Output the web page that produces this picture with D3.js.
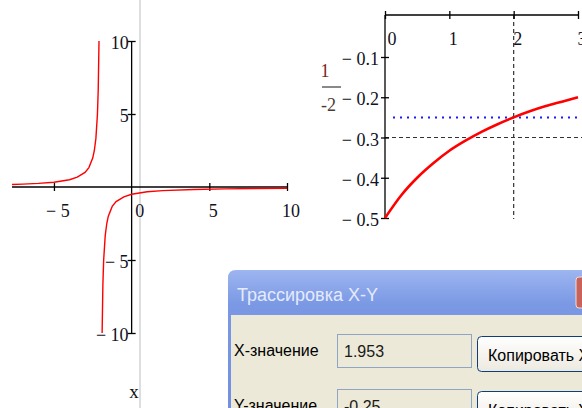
<!DOCTYPE html>
<html>
<head>
<meta charset="utf-8">
<script src="https://cdn.jsdelivr.net/npm/d3@7"></script>
<style>
  body { margin: 0; background: #fff; }
  svg { display: block; }
</style>
</head>
<body>
<div id="root"></div>
<script>
// values: y = 1/(-2-x)
const leftBranchX = [-7.7, -7, -6, -5, -4, -3.5, -3, -2.75, -2.5, -2.4, -2.3, -2.2, -2.15, -2.1];
const leftBranchY = [0.17, 0.2, 0.25, 0.33, 0.5, 0.67, 1, 1.33, 2, 2.5, 3.33, 5, 6.67, 10];
const rightBranchX = [-1.9, -1.85, -1.8, -1.7, -1.6, -1.5, -1.25, -1, -0.5, 0, 1, 2, 4, 6, 8, 10];
const rightBranchY = [-10, -6.67, -5, -3.33, -2.5, -2, -1.33, -1, -0.67, -0.5, -0.33, -0.25, -0.17, -0.125, -0.1, -0.083];
const leftXTicks = [-5, 0, 5, 10];
const leftYTicks = [-10, -5, 5, 10];

// zoomed plot, 0..3
const zoomX = [0, 0.25, 0.5, 0.75, 1, 1.25, 1.5, 1.75, 2, 2.25, 2.5, 2.75, 3];
const zoomY = [-0.5, -0.444, -0.4, -0.364, -0.333, -0.308, -0.286, -0.267, -0.25, -0.235, -0.222, -0.211, -0.2];
const zoomXTicks = [0, 1, 2, 3];
const zoomYTicks = [-0.1, -0.2, -0.3, -0.4, -0.5];
const markerX = 2;
const markerY = -0.3;
const traceLevel = -0.25;

// trace dialog
const dialogTitle = 'Трассировка X-Y';
const rowLabels = ['X-значение', 'Y-значение'];
const rowValues = ['1.953', '-0.25'];
const buttonLabels = ['Копировать X', 'Копировать Y'];

const w = 582, h = 408;
const svg = d3.select('#root').append('svg').attr('width', w).attr('height', h);

const fmt = d => (d < 0 ? '\u2212 ' + Math.abs(d) : String(d));
const serif = '"Liberation Serif", "DejaVu Serif", serif';
const sans = '"Liberation Sans", Arial, sans-serif';
const labelColor = '#111122';

// ---------- left plot ----------
const x1 = d3.scaleLinear().domain([-7.7, 10]).range([12, 287]);
const y1 = d3.scaleLinear().domain([-10, 10]).range([333, 41]);

// mathcad region border
svg.append('line').attr('x1', 140).attr('x2', 140).attr('y1', 0).attr('y2', h)
  .attr('stroke', '#c8c8c8').attr('stroke-width', 1.2);

const xAxis1 = svg.append('g')
  .attr('transform', `translate(0,${y1(0)})`)
  .call(d3.axisBottom(x1).tickValues([-5, 5, 10]).tickSize(4).tickFormat(''));
xAxis1.select('.domain').attr('d', `M${x1.range()[0]},0H${x1.range()[1]}`).attr('stroke', '#000').attr('stroke-width', 1.3);
xAxis1.selectAll('.tick line').attr('y1', -4).attr('y2', 4).attr('stroke', '#000').attr('stroke-width', 1.3);

const yAxis1 = svg.append('g')
  .attr('transform', `translate(${x1(0)},0)`)
  .call(d3.axisLeft(y1).tickValues(leftYTicks).tickSize(4).tickFormat(''));
yAxis1.select('.domain').attr('d', `M0,${y1(10)}V${y1(-10)}`).attr('stroke', '#000').attr('stroke-width', 1.3);
yAxis1.selectAll('.tick line').attr('x1', -4).attr('x2', 4).attr('stroke', '#000').attr('stroke-width', 1.3);

svg.append('g').selectAll('text').data(leftXTicks).enter().append('text')
  .attr('x', d => x1(d) + (d === 0 ? 8 : 4))
  .attr('y', 217)
  .attr('text-anchor', 'middle')
  .attr('font-family', serif).attr('font-size', 18).attr('fill', labelColor)
  .text(fmt);

svg.append('g').selectAll('text').data(leftYTicks).enter().append('text')
  .attr('x', x1(0) - 3)
  .attr('y', d => y1(d) + 8)
  .attr('text-anchor', 'end')
  .attr('font-family', serif).attr('font-size', 18).attr('fill', labelColor)
  .text(fmt);

svg.append('text').attr('x', 134).attr('y', 398).attr('text-anchor', 'middle')
  .attr('font-family', serif).attr('font-size', 19).attr('fill', '#111').text('x');

const line1 = d3.line().x(d => x1(d[0])).y(d => y1(d[1]));
[[leftBranchX, leftBranchY], [rightBranchX, rightBranchY]].forEach(([xs, ys]) => {
  svg.append('path')
    .datum(xs.map((v, i) => [v, ys[i]]))
    .attr('d', line1)
    .attr('fill', 'none').attr('stroke', '#ff0000').attr('stroke-width', 1.4);
});

// ---------- right plot ----------
const x2 = d3.scaleLinear().domain([0, 3]).range([385, 578]);
const y2 = d3.scaleLinear().domain([-0.5, -0.1]).range([218, 57]);
const top2 = 15;

svg.append('line').attr('x1', x2(markerX)).attr('x2', x2(markerX)).attr('y1', top2).attr('y2', 219)
  .attr('stroke', '#333').attr('stroke-width', 1.2).attr('stroke-dasharray', '4,3');
svg.append('line').attr('x1', x2(0)).attr('x2', w).attr('y1', y2(markerY)).attr('y2', y2(markerY))
  .attr('stroke', '#333').attr('stroke-width', 1.2).attr('stroke-dasharray', '4,3');
svg.append('line').attr('x1', 393).attr('x2', w).attr('y1', y2(traceLevel)).attr('y2', y2(traceLevel))
  .attr('stroke', '#1a1aff').attr('stroke-width', 2).attr('stroke-dasharray', '2,5');

const xAxis2 = svg.append('g')
  .attr('transform', `translate(0,${top2})`)
  .call(d3.axisTop(x2).tickValues(zoomXTicks).tickSize(4).tickFormat(''));
xAxis2.select('.domain').attr('d', `M${x2(0)},0H${x2(3)}`).attr('stroke', '#000').attr('stroke-width', 1.3);
xAxis2.selectAll('.tick line').attr('y1', -4).attr('y2', 4).attr('stroke', '#000').attr('stroke-width', 1.3);

const yAxis2 = svg.append('g')
  .attr('transform', `translate(${x2(0)},0)`)
  .call(d3.axisLeft(y2).tickValues(zoomYTicks).tickSize(4).tickFormat(''));
yAxis2.select('.domain').attr('d', `M0,${top2}V${y2(-0.5)}`).attr('stroke', '#000').attr('stroke-width', 1.3);
yAxis2.selectAll('.tick line').attr('x1', -4).attr('x2', 4).attr('stroke', '#000').attr('stroke-width', 1.3);

svg.append('g').selectAll('text').data(zoomXTicks).enter().append('text')
  .attr('x', d => x2(d) + (d === 0 ? 7 : 4))
  .attr('y', 45)
  .attr('text-anchor', 'middle')
  .attr('font-family', serif).attr('font-size', 18).attr('fill', labelColor)
  .text(d => d);

svg.append('g').selectAll('text').data(zoomYTicks).enter().append('text')
  .attr('x', x2(0) - 6)
  .attr('y', d => y2(d) + 8)
  .attr('text-anchor', 'end')
  .attr('font-family', serif).attr('font-size', 18).attr('fill', labelColor)
  .text(fmt);

// y label: 1 over -2 (cut)
svg.append('text').attr('x', 325).attr('y', 77).attr('text-anchor', 'middle')
  .attr('font-family', serif).attr('font-size', 18).attr('fill', '#7a2418').text('1');
svg.append('line').attr('x1', 322).attr('x2', 341).attr('y1', 87).attr('y2', 87)
  .attr('stroke', '#3a3a3a').attr('stroke-width', 1.2);
svg.append('text').attr('x', 321).attr('y', 111)
  .attr('font-family', serif).attr('font-size', 18).attr('fill', '#4a3c30').text('-2');

const line2 = d3.line().x(d => x2(d[0])).y(d => y2(d[1])).curve(d3.curveMonotoneX);
svg.append('path')
  .datum(zoomX.map((v, i) => [v, zoomY[i]]))
  .attr('d', line2)
  .attr('fill', 'none').attr('stroke', '#ff0000').attr('stroke-width', 2.6);

// ---------- trace dialog ----------
const defs = svg.append('defs');
const tg = defs.append('linearGradient').attr('id', 'titleGrad').attr('x1', 0).attr('x2', 0).attr('y1', 0).attr('y2', 1);
tg.append('stop').attr('offset', '0%').attr('stop-color', '#9db5f0');
tg.append('stop').attr('offset', '25%').attr('stop-color', '#7a98e4');
tg.append('stop').attr('offset', '100%').attr('stop-color', '#7190de');
const bg = defs.append('linearGradient').attr('id', 'btnGrad').attr('x1', 0).attr('x2', 0).attr('y1', 0).attr('y2', 1);
bg.append('stop').attr('offset', '0%').attr('stop-color', '#ffffff');
bg.append('stop').attr('offset', '100%').attr('stop-color', '#ece9df');

const dlg = svg.append('g');
dlg.append('path')
  .attr('d', `M228,${h}V278Q228,270 236,270H${w}V${h}Z`)
  .attr('fill', 'url(#titleGrad)');
dlg.append('rect').attr('x', 231).attr('y', 315).attr('width', w - 231).attr('height', h - 315)
  .attr('fill', '#ece9d8');
dlg.append('text').attr('x', 237).attr('y', 301)
  .attr('font-family', sans).attr('font-size', 18)
  .attr('fill', '#e4ebfb').text(dialogTitle);
dlg.append('rect').attr('x', 576).attr('y', 277).attr('width', 22).attr('height', 31).attr('rx', 3)
  .attr('fill', '#c8625a').attr('stroke', '#f3dcd8').attr('stroke-width', 1);

const rowTop = [334, 389];
rowTop.forEach((t, i) => {
  dlg.append('text').attr('x', 234).attr('y', t + 22)
    .attr('font-family', sans).attr('font-size', 16)
    .attr('fill', '#000').text(rowLabels[i]);
  dlg.append('rect').attr('x', 337.5).attr('y', t + 0.5).attr('width', 134).attr('height', 33)
    .attr('fill', '#ece9d8').attr('stroke', '#8ea6c4').attr('stroke-width', 1);
  dlg.append('text').attr('x', 344).attr('y', t + 23)
    .attr('font-family', sans).attr('font-size', 16)
    .attr('fill', '#1a1a1a').text(rowValues[i]);
  dlg.append('rect').attr('x', 477.5).attr('y', t + 2.5).attr('width', 130).attr('height', 35).attr('rx', 4)
    .attr('fill', 'url(#btnGrad)').attr('stroke', '#0f3f78').attr('stroke-width', 1);
  dlg.append('text').attr('x', 488).attr('y', t + 27)
    .attr('font-family', sans).attr('font-size', 16)
    .attr('fill', '#000').text(buttonLabels[i]);
});
</script>
</body>
</html>
